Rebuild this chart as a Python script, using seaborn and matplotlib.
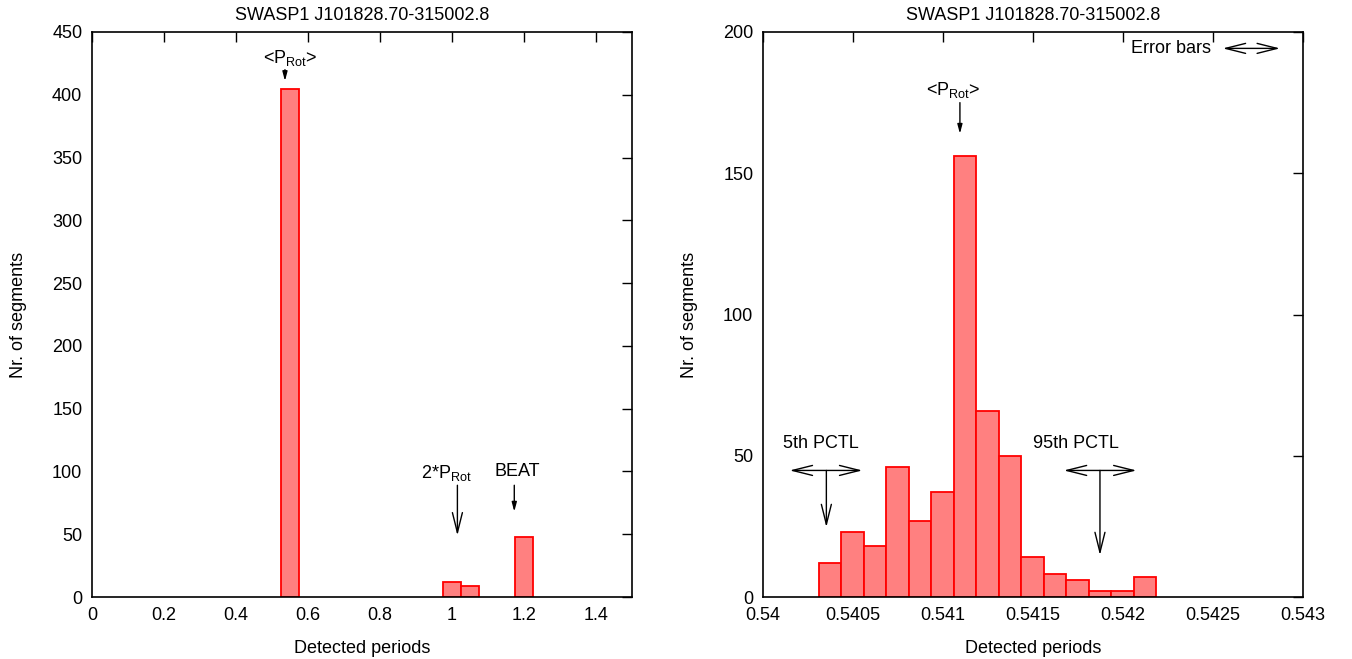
import numpy as np
import pandas as pd
import matplotlib
matplotlib.use("Agg")
import matplotlib.pyplot as plt
import seaborn as sns

sns.set_theme(style="white")
plt.rcParams['font.family'] = ['Liberation Sans', 'DejaVu Sans']
plt.rcParams['mathtext.fontset'] = 'custom'
plt.rcParams['mathtext.rm'] = 'Liberation Sans'
plt.rcParams['mathtext.it'] = 'Liberation Sans'
plt.rcParams['text.color'] = 'black'
plt.rcParams['axes.labelcolor'] = 'black'
plt.rcParams['xtick.color'] = 'black'
plt.rcParams['ytick.color'] = 'black'

title = "SWASP1 J101828.70-315002.8"
xlabel = "Detected periods"
ylabel = "Nr. of segments"

# Left panel: full period range
left_centers = [0.549, 0.999, 1.049, 1.199]
left_counts = [405, 12, 9, 48]
left_binrange = (0.524, 1.224)
left_nbins = 14

# Right panel: zoom on rotation period
right_centers = [0.540373, 0.540498, 0.540623, 0.540748, 0.540873, 0.540998,
                 0.541123, 0.541248, 0.541373, 0.541498, 0.541623, 0.541748,
                 0.541873, 0.541998, 0.542123]
right_counts = [12, 23, 18, 46, 27, 37, 156, 66, 50, 14, 8, 6, 2, 2, 7]
right_binrange = (0.54031, 0.542185)
right_nbins = 15

left_xticks = [0, 0.2, 0.4, 0.6, 0.8, 1.0, 1.2, 1.4]
left_yticks = [0, 50, 100, 150, 200, 250, 300, 350, 400, 450]
right_xticks = [0.54, 0.5405, 0.541, 0.5415, 0.542, 0.5425, 0.543]
right_yticks = [0, 50, 100, 150, 200]

FS = 13
fill = "#ff8080"
edge = "#ff0000"

fig = plt.figure(figsize=(13.52, 6.59), dpi=100)
axL = fig.add_axes([92/1352, 62/659, 540/1352, 565/659])
axR = fig.add_axes([763/1352, 62/659, 540/1352, 565/659])


def draw_hist(ax, centers, counts, binrange, nbins):
    df = pd.DataFrame({"period": centers, "n": counts})
    sns.histplot(data=df, x="period", weights="n", bins=nbins, binrange=binrange,
                 ax=ax, color=fill, alpha=1.0, edgecolor=edge, linewidth=1.3,
                 zorder=1)
    for p in ax.patches:
        if p.get_height() == 0:
            p.set_visible(False)


def style(ax, xlim, ylim, xticks, yticks):
    ax.set_xlim(*xlim)
    ax.set_ylim(*ylim)
    ax.set_xticks(xticks)
    ax.set_yticks(yticks)
    ax.xaxis.set_major_formatter(matplotlib.ticker.FormatStrFormatter('%g'))
    ax.tick_params(direction='in', length=7, width=1.0, top=True, right=True,
                   labelsize=FS, colors='black', pad=7)
    for s in ax.spines.values():
        s.set_visible(True)
        s.set_color('black')
        s.set_linewidth(1.2)
        s.set_zorder(5)
    ax.set_axisbelow(False)
    ax.grid(False)
    ax.set_title(title, fontsize=FS, pad=9, color='black')
    ax.set_xlabel(xlabel, fontsize=FS, labelpad=12, color='black')
    ax.set_ylabel(ylabel, fontsize=FS, labelpad=18, color='black')


draw_hist(axL, left_centers, left_counts, left_binrange, left_nbins)
draw_hist(axR, right_centers, right_counts, right_binrange, right_nbins)
style(axL, (0, 1.5), (0, 450), left_xticks, left_yticks)
style(axR, (0.54, 0.543), (0, 200), right_xticks, right_yticks)

small_head = dict(arrowstyle='-|>,head_length=0.45,head_width=0.12', color='black', lw=1.0,
                  shrinkA=0, shrinkB=0)
open_head = dict(arrowstyle='->,head_length=1.2,head_width=0.3', color='black', lw=1.0,
                 shrinkA=0, shrinkB=0)
double_head = dict(arrowstyle='<->,head_length=1.2,head_width=0.3', color='black', lw=1.0,
                   shrinkA=0, shrinkB=0)

PROT = r"P$_{\mathregular{Rot}}$"

# Left annotations
axL.text(0.55, 429, "<" + PROT + ">", ha='center', va='center', fontsize=FS)
axL.annotate("", xy=(0.536, 411), xytext=(0.536, 420), arrowprops=small_head)
axL.text(0.985, 99, "2*" + PROT, ha='center', va='center', fontsize=FS)
axL.annotate("", xy=(1.015, 49), xytext=(1.015, 89), arrowprops=open_head)
axL.text(1.18, 100, "BEAT", ha='center', va='center', fontsize=FS)
axL.annotate("", xy=(1.173, 68), xytext=(1.173, 89), arrowprops=small_head)

# Right annotations
axR.text(0.541056, 179.5, "<" + PROT + ">", ha='center', va='center', fontsize=FS)
axR.annotate("", xy=(0.541094, 164), xytext=(0.541094, 175), arrowprops=small_head)

axR.text(0.54032, 54.4, "5th PCTL", ha='center', va='center', fontsize=FS)
axR.annotate("", xy=(0.540148, 44.8), xytext=(0.540552, 44.8), arrowprops=double_head)
axR.annotate("", xy=(0.540352, 24.7), xytext=(0.540352, 44.8), arrowprops=open_head)

axR.text(0.541741, 54.4, "95th PCTL", ha='center', va='center', fontsize=FS)
axR.annotate("", xy=(0.541671, 44.8), xytext=(0.542075, 44.8), arrowprops=double_head)
axR.annotate("", xy=(0.541872, 14.8), xytext=(0.541872, 44.8), arrowprops=open_head)

axR.text(0.54249, 194.2, "Error bars", ha='right', va='center', fontsize=FS)
axR.annotate("", xy=(0.542554, 194.2), xytext=(0.542872, 194.2), arrowprops=double_head)

fig.savefig("out.png", dpi=100)
